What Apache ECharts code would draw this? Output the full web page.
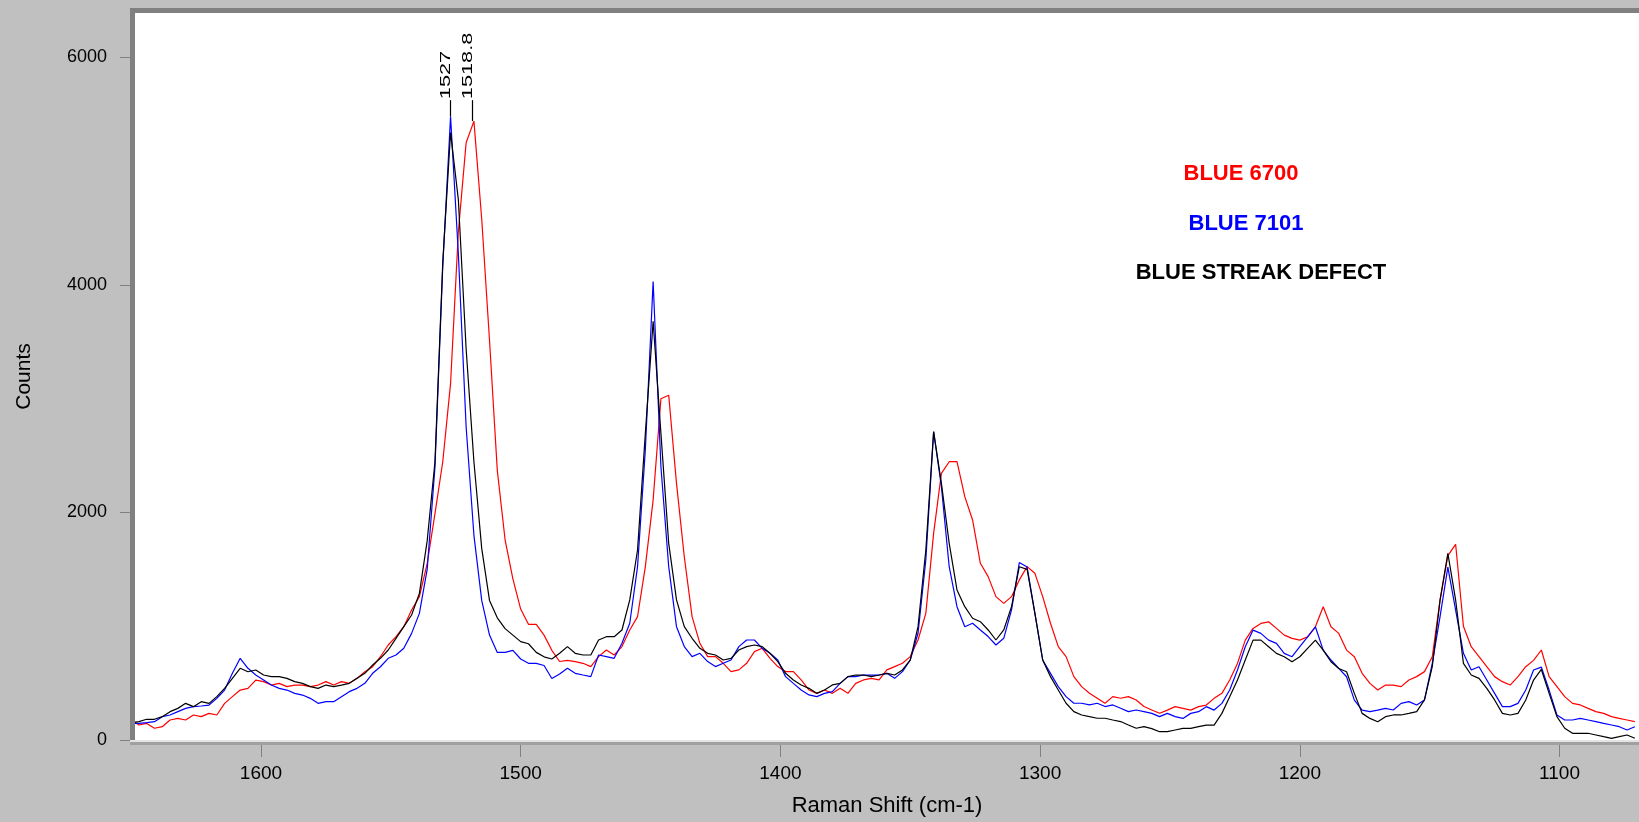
<!DOCTYPE html>
<html>
<head>
<meta charset="utf-8">
<script src="https://cdn.jsdelivr.net/npm/echarts@6/dist/echarts.min.js"></script>
<style>
html,body{margin:0;padding:0;background:#c0c0c0;}
#c{width:1639px;height:822px;}
</style>
</head>
<body>
<div id="c"></div>
<script>
const wavenumbers = [1650,1647,1644,1641,1638,1635,1632,1629,1626,1623,
1620,1617,1614,1611,1608,1605,1602,1599,1596,1593,
1590,1587,1584,1581,1578,1575,1572,1569,1566,1563,
1560,1557,1554,1551,1548,1545,1542,1539,1536,1533,
1530,1527,1524,1521,1518,1515,1512,1509,1506,1503,
1500,1497,1494,1491,1488,1485,1482,1479,1476,1473,
1470,1467,1464,1461,1458,1455,1452,1449,1446,1443,
1440,1437,1434,1431,1428,1425,1422,1419,1416,1413,
1410,1407,1404,1401,1398,1395,1392,1389,1386,1383,
1380,1377,1374,1371,1368,1365,1362,1359,1356,1353,
1350,1347,1344,1341,1338,1335,1332,1329,1326,1323,
1320,1317,1314,1311,1308,1305,1302,1299,1296,1293,
1290,1287,1284,1281,1278,1275,1272,1269,1266,1263,
1260,1257,1254,1251,1248,1245,1242,1239,1236,1233,
1230,1227,1224,1221,1218,1215,1212,1209,1206,1203,
1200,1197,1194,1191,1188,1185,1182,1179,1176,1173,
1170,1167,1164,1161,1158,1155,1152,1149,1146,1143,
1140,1137,1134,1131,1128,1125,1122,1119,1116,1113,
1110,1107,1104,1101,1098,1095,1092,1089,1086,1083,
1080,1077,1074,1071];

const blue6700 = [180,132,146,103,117,176,190,176,220,205,
234,220,322,381,439,454,527,513,483,498,
469,483,483,469,483,513,483,513,498,542,
600,644,732,835,908,996,1142,1260,1550,1989,
2446,3132,4466,5250,5440,4580,3513,2370,1760,1417,
1151,1017,1017,922,788,690,700,689,674,645,
733,791,747,821,967,1084,1524,2109,3000,3030,
2256,1611,1084,850,733,733,674,601,616,674,
777,806,718,645,601,601,528,440,410,440,
410,454,410,498,528,542,528,616,645,674,
733,879,1113,1816,2344,2446,2446,2139,1934,1553,
1436,1260,1201,1260,1407,1524,1465,1260,1026,821,
733,557,469,411,367,323,381,367,381,352,
294,264,235,263,293,278,263,293,307,366,
410,527,673,878,981,1025,1039,981,922,893,
878,907,995,1171,995,937,790,732,586,498,
439,483,483,469,527,557,601,732,1230,1620,
1720,1000,820,732,644,557,513,483,557,644,
700,791,557,469,381,322,308,278,249,234,
205,190,176,161];

const blue7101 = [146,146,152,161,205,220,249,278,293,299,
307,366,439,586,718,630,571,527,483,454,
439,410,395,366,322,337,337,381,425,454,
498,586,644,718,747,806,937,1113,1500,2400,
4161,5480,4276,2751,1799,1227,922,770,770,788,
712,674,674,655,540,580,630,586,571,557,
747,733,718,850,1026,1524,2549,4030,2402,1524,
996,821,733,762,689,645,674,703,821,879,
879,806,762,703,557,498,440,396,381,410,
425,498,557,557,571,571,571,586,542,601,
703,938,1582,2710,2227,1523,1172,996,1026,967,
909,835,894,1143,1560,1520,1113,703,586,469,
381,323,323,308,323,294,308,279,249,264,
249,234,205,234,205,190,234,249,293,263,
322,439,615,820,966,937,878,849,761,732,
820,907,995,790,703,629,556,351,263,249,
263,278,264,322,337,308,352,674,1084,1520,
1142,762,615,644,527,410,293,293,322,439,
615,640,439,220,176,176,190,176,161,146,
132,117,88,117];

const streakDefect = [150,161,182,182,205,249,278,322,293,337,
322,381,454,542,630,600,615,571,557,557,
542,513,498,469,454,483,469,483,498,542,
586,659,718,791,893,996,1099,1289,1750,2446,
4200,5340,4750,3437,2446,1684,1227,1074,979,922,
865,846,770,731,712,762,821,762,747,747,
879,908,908,967,1231,1670,2695,3680,2695,1728,
1231,996,894,806,762,747,703,718,791,821,
835,821,762,689,586,528,484,454,410,440,
484,498,557,571,571,557,571,586,571,616,
703,996,1670,2710,2256,1728,1319,1172,1070,1040,
967,879,967,1172,1523,1500,1113,703,557,440,
323,249,220,205,191,191,176,162,132,103,
118,100,73,73,88,102,102,117,131,131,
234,380,527,703,878,878,820,761,732,688,
732,805,878,790,688,629,600,410,234,190,
161,205,220,220,234,249,352,644,1230,1640,
1230,674,571,542,454,352,234,220,234,352,
527,620,410,205,103,59,59,59,44,29,
15,29,44,15];

const xTicks = [1600,1500,1400,1300,1200,1100];
const yTicks = [0,2000,4000,6000];
const seriesNames = ['BLUE 6700','BLUE 7101','BLUE STREAK DEFECT'];
const seriesColors = ['#ff0000','#0000ff','#000000'];
const peakLabels = ['1527','1518.8'];
const peakPositions = [1527, 1518.8];
const peakTops = [5480, 5440];
const markerTop = 5624;

const toPairs = vals => wavenumbers.map((w,i)=>[w, vals[i]]);
const allVals = [blue6700, blue7101, streakDefect];

const chart = echarts.init(document.getElementById('c'), null, {renderer:'canvas'});
const FONT = '"Liberation Sans", Arial, sans-serif';

const option = {
  animation: false,
  backgroundColor: '#c0c0c0',
  grid: {left:135, right:0, top:13, bottom:82, show:true, backgroundColor:'#ffffff', borderWidth:0,
    containLabel:false, outerBoundsMode:'none'},
  xAxis: {
    type:'value', inverse:true, min:1069.4, max:1648.5,
    axisLine:{show:false},
    axisTick:{show:true, customValues:xTicks, length:17, lineStyle:{color:'#808080', width:1}},
    axisLabel:{customValues:xTicks, margin:24, fontSize:19, color:'#000', fontFamily:FONT,
      formatter: v => String(v)},
    splitLine:{show:false},
    name:'Raman Shift (cm-1)', nameLocation:'middle', nameGap:55,
    nameTextStyle:{fontSize:22, color:'#000', fontFamily:FONT}
  },
  yAxis: {
    type:'value', min:0, max:6390,
    axisLine:{show:false},
    axisTick:{show:true, customValues:yTicks, length:15, lineStyle:{color:'#808080', width:1}},
    axisLabel:{customValues:yTicks, margin:28, fontSize:18, color:'#000', fontFamily:FONT,
      formatter: v => String(v)},
    splitLine:{show:false},
    name:'Counts', nameLocation:'middle', nameGap:100, nameRotate:90,
    nameTextStyle:{fontSize:21, color:'#000', fontFamily:FONT}
  },
  series: allVals.map((vals, i) => ({
    name: seriesNames[i], type:'line', data: toPairs(vals),
    showSymbol:false, symbol:'none', clip:true,
    lineStyle:{color:seriesColors[i], width:1.2},
    itemStyle:{color:seriesColors[i]},
    z: 2 + i,
    markLine: i === 0 || i === 2 ? {
      silent:true, symbol:['none','none'], animation:false,
      label:{show:false},
      lineStyle:{color:'#000', width:1.2, type:'solid'},
      data:[[{coord:[peakPositions[i===2?0:1], peakTops[i===2?0:1]]},{coord:[peakPositions[i===2?0:1], markerTop]}]]
    } : undefined
  }))
};
chart.setOption(option);

const legendPos = [[1241,173.5],[1246,224],[1261,273]];
const elements = [
  {type:'rect', shape:{x:130,y:8,width:1509,height:5}, style:{fill:'#808080'}, z:50},
  {type:'rect', shape:{x:130,y:8,width:5,height:737}, style:{fill:'#808080'}, z:50},
  {type:'rect', shape:{x:130,y:740,width:1509,height:2}, style:{fill:'#e4e4e4'}, z:50},
  {type:'rect', shape:{x:130,y:742,width:1509,height:3}, style:{fill:'#a0a0a0'}, z:50}
];
seriesNames.forEach((n,i)=>{
  elements.push({type:'text', x:legendPos[i][0], y:legendPos[i][1], z:60,
    style:{text:n, fill:seriesColors[i], font:'bold 22px ' + FONT, align:'center', verticalAlign:'middle'}});
});
peakLabels.forEach((t,i)=>{
  const p = chart.convertToPixel({gridIndex:0}, [peakPositions[i], markerTop]);
  elements.push({type:'text', x:p[0]+3, y:p[1]-1, rotation:Math.PI/2, scaleX:1.55, z:60,
    style:{text:t, fill:'#000', font:'14px ' + FONT, align:'left', verticalAlign:'bottom'}});
});
chart.setOption({graphic:{elements:elements}});
</script>
</body>
</html>
